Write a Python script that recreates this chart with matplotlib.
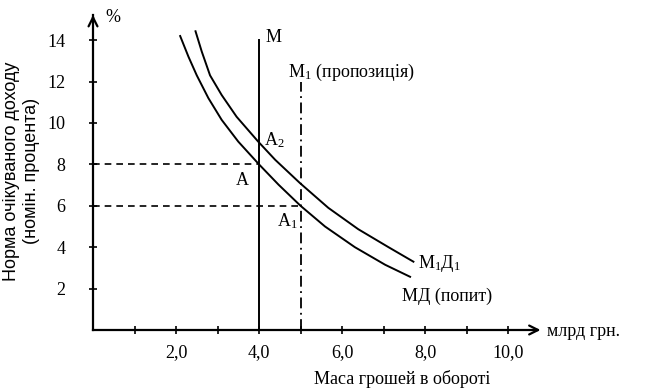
import matplotlib
matplotlib.use("Agg")
import matplotlib.pyplot as plt
from matplotlib.ticker import FixedLocator

plt.rcParams['font.family'] = ['Liberation Serif', 'DejaVu Serif']
plt.rcParams['mathtext.fontset'] = 'custom'
plt.rcParams['mathtext.rm'] = 'Liberation Serif'
plt.rcParams['mathtext.it'] = 'Liberation Serif:italic'

# ---- data ----
md_x = [2.10, 2.30, 2.50, 2.78, 3.10, 3.50, 4.00, 4.47, 5.00, 5.59, 6.31, 7.04, 7.64]
md_y = [14.20, 13.20, 12.30, 11.20, 10.15, 9.10, 8.00, 7.02, 6.00, 5.00, 4.00, 3.15, 2.57]
m1d1_x = [2.47, 2.62, 2.82, 3.10, 3.46, 3.98, 4.39, 4.99, 5.67, 6.39, 7.12, 7.72]
m1d1_y = [14.43, 13.45, 12.30, 11.35, 10.30, 9.10, 8.22, 7.09, 5.90, 4.87, 4.00, 3.30]
supply_m = 4.0
supply_m1 = 5.0
rate_a = 8.0
rate_a1 = 6.0
y_ticks = [2, 4, 6, 8, 10, 12, 14]
x_major = [2, 4, 6, 8, 10]
x_labels = ["2,0", "4,0", "6,0", "8,0", "10,0"]
x_minor = [1, 3, 5, 7, 9]

fig = plt.figure(figsize=(6.45, 3.89), dpi=100)
ax = fig.add_axes([0, 0, 1, 1])
ax.set_xlim(-2.241, 13.30)
ax.set_ylim(-2.85, 15.94)
ax.patch.set_alpha(0)

for s in ['top', 'right']:
    ax.spines[s].set_visible(False)
ax.spines['left'].set_position(('data', 0))
ax.spines['bottom'].set_position(('data', 0))
ax.spines['left'].set_bounds(0, 15.2)
ax.spines['bottom'].set_bounds(0, 10.7)
for s in ['left', 'bottom']:
    ax.spines[s].set_linewidth(1.6)

ax.yaxis.set_major_locator(FixedLocator(y_ticks))
ax.set_yticklabels([str(v) for v in y_ticks])
ax.xaxis.set_major_locator(FixedLocator(x_major))
ax.set_xticklabels(x_labels)
ax.xaxis.set_minor_locator(FixedLocator(x_minor))
ax.tick_params(axis='both', which='both', direction='inout', length=6, width=1.2,
               labelsize=13)
ax.tick_params(axis='y', pad=17)
ax.tick_params(axis='x', pad=7)

# axis arrows
ax.annotate('', xy=(0, 15.35), xytext=(0, 14.9),
            arrowprops=dict(arrowstyle='->', lw=1.6, color='black', mutation_scale=16))
ax.annotate('', xy=(10.85, 0), xytext=(10.5, 0),
            arrowprops=dict(arrowstyle='->', lw=1.6, color='black', mutation_scale=16))

# demand curves
ax.plot(md_x, md_y, color='black', lw=1.4)
ax.plot(m1d1_x, m1d1_y, color='black', lw=1.4)

# supply lines
ax.plot([supply_m, supply_m], [0, 14.0], color='black', lw=1.4)
ax.plot([supply_m1, supply_m1], [0, 12.0], color='black', lw=1.3,
        linestyle=(0, (6, 2.5, 1, 2.5)))

# dashed guides
ax.plot([0, supply_m], [rate_a, rate_a], color='black', lw=1.2, linestyle=(0, (4, 3)))
ax.plot([0, supply_m1], [rate_a1, rate_a1], color='black', lw=1.2, linestyle=(0, (4, 3)))

fs = 13
ax.text(4.15, 14.15, 'M', fontsize=fs, va='center', ha='left')
ax.text(4.7, 12.44, 'M$_1$ (пропозиція)', fontsize=fs, va='center', ha='left')
ax.text(4.12, 9.18, 'A$_2$', fontsize=fs, va='center', ha='left')
ax.text(3.45, 7.2, 'A', fontsize=fs, va='center', ha='left')
ax.text(4.43, 5.27, 'A$_1$', fontsize=fs, va='center', ha='left')
ax.text(7.83, 3.2, 'M$_1$Д$_1$', fontsize=fs, va='center', ha='left')
ax.text(7.45, 1.64, 'МД (попит)', fontsize=fs, va='center', ha='left')
ax.text(10.94, -0.05, 'млрд грн.', fontsize=fs, va='center', ha='left')
ax.text(0.29, 15.1, '%', fontsize=fs, va='center', ha='left')
ax.text(7.45, -2.35, 'Маса грошей в обороті', fontsize=fs, va='center', ha='center')
ax.text(-1.72, 7.68, 'Норма очікуваного доходу\n(номін. процента)', fontsize=13,
        family=['Liberation Sans', 'DejaVu Sans'],
        va='center', ha='center', rotation=90, linespacing=1.2)

fig.savefig('out.png', dpi=100)
